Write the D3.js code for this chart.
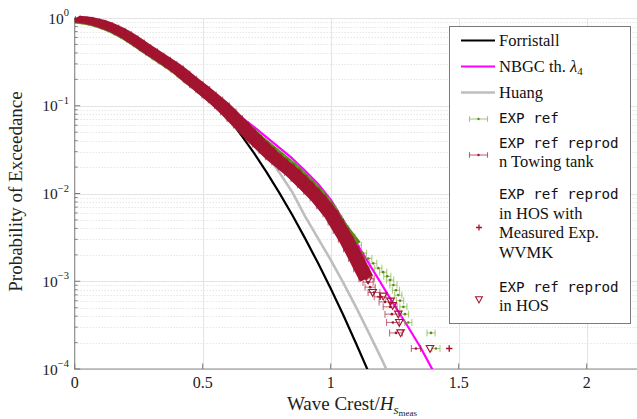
<!DOCTYPE html>
<html><head><meta charset="utf-8">
<script src="https://cdn.jsdelivr.net/npm/d3@7"></script>
<style>body{margin:0;background:#fff}svg{display:block}</style>
</head><body><svg id="c" width="637" height="419"></svg>
<script>
// ---------- data ----------
const xTickValues = [0, 0.5, 1, 1.5, 2];
const xTickLabels = ["0", "0.5", "1", "1.5", "2"];
const yTickExponents = [0, -1, -2, -3, -4];
const yTickLabels = ["0", "\u22121", "\u22122", "\u22123", "\u22124"];

const forristallX = [0,0.05,0.1,0.15,0.2,0.25,0.3,0.35,0.4,0.45,0.5,0.55,0.6,0.65,0.7,0.75,0.8,0.85,0.9,0.95,1.0,1.05,1.1,1.15,1.2];
const forristallP = [1,0.975,0.91,0.80,0.67,0.54,0.43,0.34,0.27,0.205,0.155,0.108,0.0727,0.0466,0.0290,0.0174,0.0101,0.00568,0.00308,0.00162,0.000826,0.000407,0.000193,0.0000894,0.0000399];

const nbgcX = [0,0.05,0.1,0.15,0.2,0.25,0.3,0.35,0.4,0.45,0.5,0.55,0.6,0.65,0.7,0.75,0.8,0.85,0.9,0.95,1.0,1.05,1.1,1.15,1.2,1.25,1.3,1.35,1.4];
const nbgcP = [1,0.973,0.902,0.794,0.676,0.550,0.437,0.347,0.272,0.209,0.160,0.123,0.0955,0.0741,0.0575,0.0437,0.0331,0.0251,0.0182,0.0129,0.00851,0.00490,0.00275,0.00158,0.000912,0.000525,0.000309,0.000178,0.0000955];

const huangX = [0,0.05,0.1,0.15,0.2,0.25,0.3,0.35,0.4,0.45,0.5,0.55,0.6,0.65,0.7,0.75,0.8,0.85,0.9,0.95,1.0,1.05,1.1,1.15,1.2,1.25];
const huangP = [1,0.955,0.88,0.776,0.653,0.525,0.417,0.331,0.26,0.2,0.151,0.112,0.0851,0.0631,0.0442,0.0282,0.01726,0.01037,0.0055,0.0031,0.00175,0.00095,0.0005,0.000255,0.000128,0.0000618];

// EXP ref (green)
const refX = [0,0.025,0.05,0.075,0.1,0.125,0.15,0.175,0.2,0.225,0.25,0.275,0.3,0.325,0.35,0.375,0.4,0.425,0.45,0.475,0.5,0.525,0.55,0.575,
  0.6,0.625,0.65,0.675,0.7,0.725,0.75,0.775,0.8,0.825,0.85,0.875,0.9,0.925,0.95,0.975,1.0,1.025,1.05,1.075,1.1,
  1.126,1.147,1.166,1.186,1.205,1.221,1.232,1.245,1.255,1.264,1.271,1.284,1.290,1.303,1.392,1.411];
const refP = [0.951,0.938,0.918,0.885,0.847,0.798,0.746,0.687,0.628,0.565,0.505,0.450,0.401,0.360,0.322,0.288,0.256,0.223,0.194,0.170,0.149,0.130,0.113,0.0993,
  0.0861,0.0733,0.0624,0.0537,0.0462,0.0398,0.0347,0.0302,0.0263,0.0229,0.0200,0.0170,0.0145,0.0122,0.0102,0.00832,0.00676,0.00513,0.00398,0.00320,0.00257,
  0.00209,0.00182,0.00160,0.00141,0.00127,0.00114,0.00103,0.000904,0.000791,0.000695,0.000601,0.000511,0.000422,0.000339,0.000258,0.000171];
const refErr = [0.02,0.02,0.02,0.02,0.02,0.02,0.02,0.02,0.02,0.02,0.02,0.02,0.02,0.02,0.02,0.02,0.02,0.02,0.02,0.02,0.02,0.02,0.02,0.02,
  0.02,0.02,0.02,0.02,0.02,0.02,0.02,0.02,0.02,0.02,0.02,0.02,0.02,0.02,0.02,0.02,0.02,0.02,0.02,0.02,0.02,
  0.014,0.014,0.014,0.014,0.014,0.014,0.014,0.014,0.014,0.014,0.014,0.014,0.014,0.014,0.016,0.016];
const refDenseCount = 45;

// EXP ref reprod in Towing tank (maroon)
const towX = [0,0.025,0.05,0.075,0.1,0.125,0.15,0.175,0.2,0.225,0.25,0.275,0.3,0.325,0.35,0.375,0.4,0.425,0.45,0.475,0.5,0.525,0.55,0.575,
  0.6,0.625,0.65,0.675,0.7,0.725,0.75,0.775,0.8,0.825,0.85,0.875,0.9,0.925,0.95,0.975,1.0,1.02,1.04,1.06,1.08,1.1,1.12,1.14,
  1.146,1.154,1.169,1.193,1.212,1.232,1.239,1.243,1.255,1.333];
const towP = [0.977,0.964,0.944,0.910,0.871,0.820,0.767,0.706,0.646,0.581,0.519,0.462,0.412,0.370,0.331,0.296,0.263,0.230,0.200,0.175,0.153,0.133,0.116,0.100,
  0.0851,0.0716,0.0603,0.0507,0.0427,0.0363,0.0309,0.0263,0.0229,0.0200,0.0174,0.0148,0.0126,0.0106,0.00891,0.00724,0.00589,0.00472,0.00378,0.00302,0.00234,0.00182,0.00139,0.00107,
  0.000977,0.000857,0.000745,0.000664,0.000582,0.000511,0.000422,0.000339,0.000258,0.000171];
const towErr = [0.022,0.022,0.022,0.022,0.022,0.022,0.022,0.022,0.022,0.022,0.022,0.022,
  0.023,0.023,0.024,0.024,0.025,0.025,0.026,0.026,0.027,0.028,0.028,0.029,
  0.03,0.03,0.03,0.03,0.03,0.03,0.03,0.03,0.03,0.03,0.03,0.03,0.03,0.03,0.03,0.03,0.03,0.03,0.03,0.03,0.03,0.03,0.03,0.03,
  0.02,0.02,0.023,0.023,0.023,0.027,0.027,0.025,0.025,0.018];
const towDenseCount = 48;

// EXP ref reprod in HOS with measured Exp. WVMK (+)
const wvmkX = [0.3,0.6,0.9,1.1,1.193,1.463];
const wvmkP = [0.412,0.0851,0.0126,0.00182,0.000664,0.000171];

// EXP ref reprod in HOS (triangles)
const hosX = [1.146,1.164,1.205,1.234,1.242,1.264,1.268,1.273,1.388];
const hosP = [0.00103,0.000745,0.000676,0.000593,0.000527,0.000422,0.000339,0.000258,0.000171];

// ---------- styles ----------
const C = {black:"#000000", magenta:"#FF00FF", gray:"#BEBEBE", green:"#77AC30", greenDark:"#5A8A1C", maroon:"#A2142F"};
const serif = "'Liberation Serif','Times New Roman',serif";
const mono = "'DejaVu Sans Mono','Liberation Mono',monospace";

const svg = d3.select("#c");
const x = d3.scaleLinear().domain([0, 2.2]).range([74.7, 637.9]);
const y = d3.scaleLog().domain([1e-4, 1]).range([369, 18]);

svg.append("defs").append("clipPath").attr("id","clip").append("rect")
  .attr("x", x(0)).attr("y", 8).attr("width", 637 - x(0)).attr("height", y(1e-4) - 8);

// grid
const gGrid = svg.append("g");
const minorVals = [];
[-4,-3,-2,-1].forEach(e => { for (let k = 2; k <= 9; k++) minorVals.push(k * Math.pow(10, e)); });
gGrid.selectAll(".mg").data(minorVals).enter().append("line")
  .attr("x1", x(0)).attr("x2", 637).attr("y1", d => Math.round(y(d))+0.5).attr("y2", d => Math.round(y(d))+0.5)
  .attr("stroke", "#d2d2d2").attr("stroke-width", 0.8).attr("stroke-dasharray", "1,2");
gGrid.selectAll(".Mg").data(yTickExponents).enter().append("line")
  .attr("x1", x(0)).attr("x2", 637).attr("y1", d => Math.round(y(Math.pow(10,d)))+0.5).attr("y2", d => Math.round(y(Math.pow(10,d)))+0.5)
  .attr("stroke", "#e4e4e4").attr("stroke-width", 1);
gGrid.selectAll(".vg").data(xTickValues.slice(1)).enter().append("line")
  .attr("x1", d => Math.round(x(d))+0.5).attr("x2", d => Math.round(x(d))+0.5).attr("y1", y(1)).attr("y2", y(1e-4))
  .attr("stroke", "#e4e4e4").attr("stroke-width", 1);

// axes
const axisCol = "#8c8c8c";
svg.append("line").attr("x1", x(0)).attr("x2", x(0)).attr("y1", y(1)).attr("y2", y(1e-4)+0.5).attr("stroke", axisCol).attr("stroke-width", 1.2);
svg.append("line").attr("x1", x(0)).attr("x2", 637).attr("y1", y(1e-4)).attr("y2", y(1e-4)).attr("stroke", axisCol).attr("stroke-width", 1.2);
svg.selectAll(".ytm").data(minorVals).enter().append("line")
  .attr("x1", x(0)).attr("x2", x(0)+3).attr("y1", d => y(d)).attr("y2", d => y(d)).attr("stroke", "#777").attr("stroke-width", 0.9);
svg.selectAll(".ytM").data(yTickExponents).enter().append("line")
  .attr("x1", x(0)).attr("x2", x(0)+5.5).attr("y1", d => y(Math.pow(10,d))).attr("y2", d => y(Math.pow(10,d))).attr("stroke", "#777").attr("stroke-width", 1);
svg.selectAll(".xtM").data(xTickValues).enter().append("line")
  .attr("x1", d => x(d)).attr("x2", d => x(d)).attr("y1", y(1e-4)).attr("y2", y(1e-4)-5.5).attr("stroke", "#777").attr("stroke-width", 1);

// tick labels
const yl = svg.selectAll(".ytl").data(yTickExponents).enter().append("text")
  .attr("x", 69).attr("y", d => y(Math.pow(10,d)) + 5.5).attr("text-anchor", "end")
  .attr("font-family", serif).attr("font-size", 15.5).attr("fill", "#222");
yl.append("tspan").text("10");
yl.append("tspan").attr("dy", -7.5).attr("font-size", 10.5).text((d,i) => yTickLabels[i]);

svg.selectAll(".xtl").data(xTickValues).enter().append("text")
  .attr("x", d => x(d)).attr("y", 388).attr("text-anchor", "middle")
  .attr("font-family", serif).attr("font-size", 16).attr("fill", "#222").text((d,i) => xTickLabels[i]);

// axis labels
svg.append("text").attr("transform", "translate(22,191.5) rotate(-90)").attr("text-anchor", "middle")
  .attr("font-family", serif).attr("font-size", 19).attr("fill", "#222").text("Probability of Exceedance");
const xl = svg.append("text").attr("x", 352).attr("y", 410).attr("text-anchor", "middle")
  .attr("font-family", serif).attr("font-size", 19).attr("fill", "#222");
xl.append("tspan").text("Wave Crest/");
xl.append("tspan").attr("font-style", "italic").text("H");
xl.append("tspan").attr("font-style", "italic").attr("font-size", 13).attr("dy", 3.5).text("s");
xl.append("tspan").attr("font-size", 9).attr("dy", 2.5).text("meas");

// plot content
const plot = svg.append("g").attr("clip-path", "url(#clip)");
const line = d3.line().x(d => x(d[0])).y(d => y(d[1]));
function drawLine(X, P, col, w) {
  plot.append("path").datum(X.map((v,i) => [v, P[i]])).attr("d", line)
    .attr("fill", "none").attr("stroke", col).attr("stroke-width", w).attr("stroke-linejoin", "round");
}
drawLine(forristallX, forristallP, C.black, 2.2);
drawLine(nbgcX, nbgcP, C.magenta, 2.2);
drawLine(huangX, huangP, C.gray, 2.6);

function drawErrSeries(X, P, E, dense, col, dark) {
  const g = plot.append("g");
  const upper = [], lower = [];
  for (let i = 0; i < dense; i++) {
    upper.push([x(X[i] + 0.85*E[i]), y(P[i]) - 3.2]);
    lower.push([x(X[i] - 0.85*E[i]), y(P[i]) + 3.2]);
  }
  const poly = upper.concat(lower.reverse());
  g.append("path").attr("d", "M" + poly.map(p => p.join(",")).join("L") + "Z").attr("fill", dark);
  const pts = X.map((v,i) => ({x:v, p:P[i], e:E[i]}));
  const eb = g.selectAll(".eb").data(pts).enter().append("g")
    .attr("stroke", col).attr("stroke-opacity", 0.6).attr("stroke-width", 1.1);
  eb.append("line").attr("x1", d => x(d.x - d.e)).attr("x2", d => x(d.x + d.e)).attr("y1", d => y(d.p)).attr("y2", d => y(d.p));
  eb.append("line").attr("x1", d => x(d.x - d.e)).attr("x2", d => x(d.x - d.e)).attr("y1", d => y(d.p) - 3.5).attr("y2", d => y(d.p) + 3.5);
  eb.append("line").attr("x1", d => x(d.x + d.e)).attr("x2", d => x(d.x + d.e)).attr("y1", d => y(d.p) - 3.5).attr("y2", d => y(d.p) + 3.5);
  g.selectAll(".dot").data(pts).enter().append("circle")
    .attr("cx", d => x(d.x)).attr("cy", d => y(d.p)).attr("r", 1.3).attr("fill", dark);
}
drawErrSeries(refX, refP, refErr, refDenseCount, C.green, C.greenDark);
drawErrSeries(towX, towP, towErr, towDenseCount, C.maroon, C.maroon);

const plusPath = (cx, cy, s) => `M${cx-s},${cy}H${cx+s}M${cx},${cy-s}V${cy+s}`;
const triPath = (cx, cy, s) => `M${cx-s},${cy-s*0.8}L${cx+s},${cy-s*0.8}L${cx},${cy+s}Z`;
plot.selectAll(".pl").data(wvmkX.map((v,i) => [v, wvmkP[i]])).enter().append("path")
  .attr("d", d => plusPath(x(d[0]), y(d[1]), 3.2)).attr("stroke", C.maroon).attr("stroke-width", 1.4).attr("fill", "none");
plot.selectAll(".tr").data(hosX.map((v,i) => [v, hosP[i]])).enter().append("path")
  .attr("d", d => triPath(x(d[0]), y(d[1]), 3.8)).attr("stroke", C.maroon).attr("stroke-width", 1.1).attr("fill", "none");

// legend
const lg = svg.append("g");
lg.append("rect").attr("x", 449.5).attr("y", 26.5).attr("width", 181).attr("height", 297)
  .attr("fill", "#fff").attr("stroke", "#7a7a7a").attr("stroke-width", 1);
const lx0 = 461, lx1 = 495, tx = 499;
function legLine(yy, col, w) { lg.append("line").attr("x1", lx0).attr("x2", lx1).attr("y1", yy).attr("y2", yy).attr("stroke", col).attr("stroke-width", w); }
function legText(yy, str, fam, size, weight) {
  return lg.append("text").attr("x", tx).attr("y", yy).attr("font-family", fam).attr("font-size", size)
    .attr("font-weight", weight || "normal").attr("fill", "#111").text(str);
}
function legErr(yy, col, dark) {
  const a = 469.5, b = 487.5;
  lg.append("path").attr("d", `M${a},${yy}H${b}M${a},${yy-2.8}V${yy+2.8}M${b},${yy-2.8}V${yy+2.8}`)
    .attr("stroke", col).attr("stroke-opacity", 0.7).attr("stroke-width", 1.1).attr("fill", "none");
  lg.append("circle").attr("cx", (a+b)/2).attr("cy", yy).attr("r", 1.2).attr("fill", dark);
}
const monoSize = 14.2;
legLine(40.5, C.black, 2.2);
legText(45.5, "Forristall", serif, 16.5);
legLine(66.5, C.magenta, 2.2);
const nb = legText(71.5, "NBGC th. ", serif, 16.5);
nb.append("tspan").attr("font-style", "italic").text("\u03BB");
nb.append("tspan").attr("font-size", 11).attr("dy", 3).text("4");
legLine(92.5, C.gray, 2.6);
legText(97.5, "Huang", serif, 16.5);
legErr(119, C.green, C.greenDark);
legText(122.8, "EXP ref", mono, monoSize);
legErr(155, C.maroon, C.maroon);
legText(147.8, "EXP ref reprod", mono, monoSize);
legText(166.5, "n Towing tank", serif, 16.5);
lg.append("path").attr("d", plusPath(479, 227.5, 3)).attr("stroke", C.maroon).attr("stroke-width", 1.3);
legText(199.4, "EXP ref reprod", mono, monoSize);
legText(218.5, "in HOS with", serif, 16.5);
legText(238.3, "Measured Exp.", serif, 16.5);
legText(258.2, "WVMK", serif, 16.5);
lg.append("path").attr("d", triPath(479, 299.5, 3.4)).attr("stroke", C.maroon).attr("stroke-width", 1.1).attr("fill", "none");
legText(291.7, "EXP ref reprod", mono, monoSize);
legText(310.7, "in HOS", serif, 16.5);
</script>
</body></html>
